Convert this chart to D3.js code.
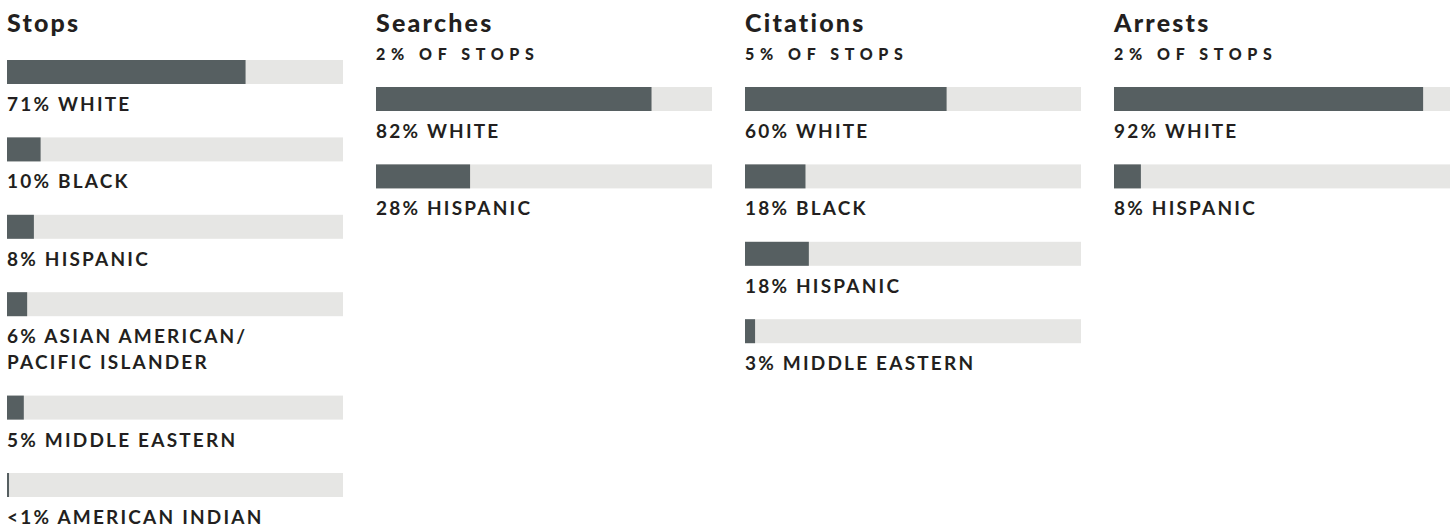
<!DOCTYPE html>
<html>
<head>
<meta charset="utf-8">
<script src="https://cdn.jsdelivr.net/npm/d3@7"></script>
<style>
  body { margin: 0; background: #fff; }
  svg { display: block; font-family: Lato, "Noto Sans", sans-serif; }
</style>
</head>
<body>
<svg id="chart"></svg>
<script>
// Panel titles and subtitles
const panelTitles = ["Stops", "Searches", "Citations", "Arrests"];
const panelSubtitles = ["", "2% OF STOPS", "5% OF STOPS", "2% OF STOPS"];

// Groups per panel
const stopsGroups = ["WHITE", "BLACK", "HISPANIC", "ASIAN AMERICAN/\nPACIFIC ISLANDER", "MIDDLE EASTERN", "AMERICAN INDIAN"];
const stopsValues = [71, 10, 8, 6, 5, 0.6];
const stopsLabels = ["71%", "10%", "8%", "6%", "5%", "<1%"];

const searchesGroups = ["WHITE", "HISPANIC"];
const searchesValues = [82, 28];
const searchesLabels = ["82%", "28%"];

const citationsGroups = ["WHITE", "BLACK", "HISPANIC", "MIDDLE EASTERN"];
const citationsValues = [60, 18, 19, 3];
const citationsLabels = ["60%", "18%", "18%", "3%"];

const arrestsGroups = ["WHITE", "HISPANIC"];
const arrestsValues = [92, 8];
const arrestsLabels = ["92%", "8%"];

const width = 1456, height = 525;
const svg = d3.select("#chart").attr("width", width).attr("height", height);

const panels = [
    { groups: stopsGroups, values: stopsValues, labels: stopsLabels },
    { groups: searchesGroups, values: searchesValues, labels: searchesLabels },
    { groups: citationsGroups, values: citationsValues, labels: citationsLabels },
    { groups: arrestsGroups, values: arrestsValues, labels: arrestsLabels }
];

const barW = 336, barH = 24;
const colX = d3.scaleBand().domain(d3.range(panels.length)).range([7, 7 + 369 * 4]).paddingInner(0).align(0);
const x = d3.scaleLinear().domain([0, 100]).range([0, barW]);

panels.forEach((p, i) => {
    const g = svg.append("g").attr("transform", `translate(${colX(i)},0)`);

    g.append("text")
        .attr("x", 0).attr("y", 32)
        .attr("fill", "#231f20")
        .style("font-size", "25px").style("font-weight", 900)
        .style("letter-spacing", "2.2px")
        .text(panelTitles[i]);

    if (panelSubtitles[i]) {
        g.append("text")
            .attr("x", 0).attr("y", 60)
            .attr("fill", "#231f20")
            .style("font-size", "16px").style("font-weight", 900)
            .style("letter-spacing", "5.6px")
            .text(panelSubtitles[i]);
    }

    // stack rows, two-line labels push the next row down
    let cursor = panelSubtitles[i] ? 87 : 60;
    const rows = p.groups.map((grp, j) => {
        const lines = (p.labels[j] + " " + grp).split("\n");
        const row = { y: cursor, lines, value: p.values[j] };
        cursor += 77.4 + 26 * (lines.length - 1);
        return row;
    });

    const items = g.selectAll("g.row").data(rows).enter().append("g")
        .attr("class", "row")
        .attr("transform", d => `translate(0,${d.y})`);

    items.append("rect")
        .attr("width", x(100)).attr("height", barH)
        .attr("fill", "#e6e6e4");

    items.append("rect")
        .attr("width", d => x(d.value)).attr("height", barH)
        .attr("fill", "#565f61");

    items.append("text")
        .attr("fill", "#231f20")
        .style("font-size", "19px").style("font-weight", 700)
        .style("letter-spacing", "2.2px")
        .selectAll("tspan").data(d => d.lines).enter().append("tspan")
        .attr("x", 0)
        .attr("y", (d, k) => 51 + k * 26)
        .text(d => d);
});
</script>
</body>
</html>
